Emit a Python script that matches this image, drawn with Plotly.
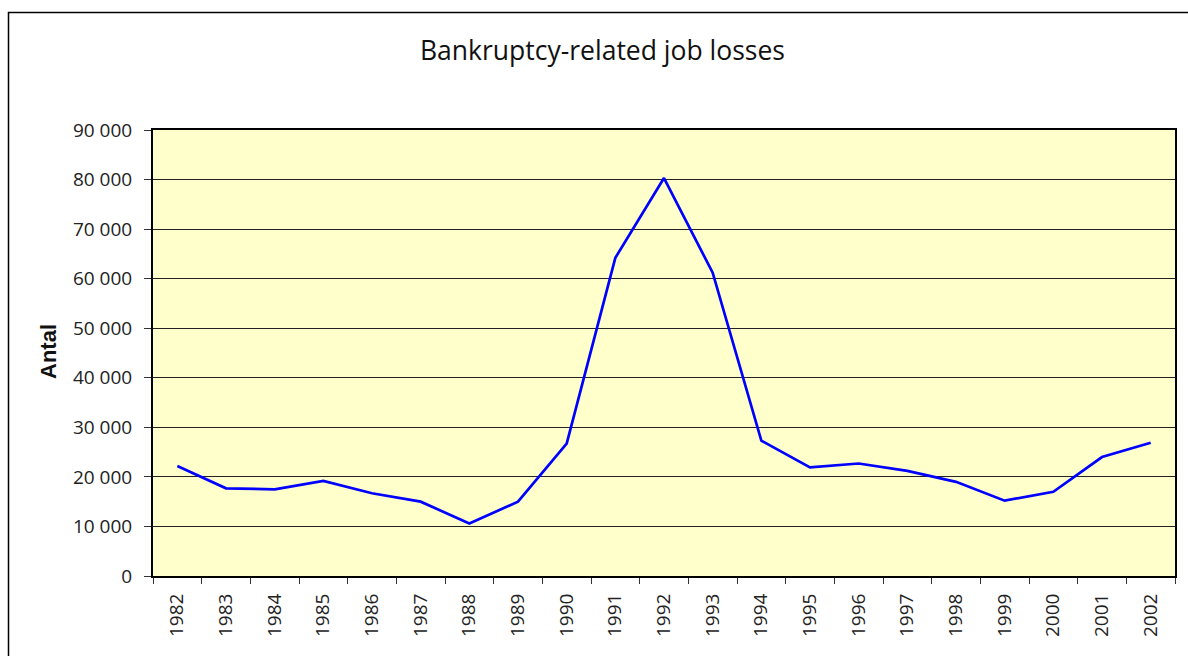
import plotly.graph_objects as go

years = [str(y) for y in range(1982, 2003)]
job_losses = [22200, 17700, 17500, 19200, 16700, 15000, 10600, 15000, 26700,
              64200, 80300, 61200, 27300, 21900, 22700, 21200, 19000, 15200,
              17000, 24000, 26900]
y_ticks = list(range(0, 90001, 10000))

W, H = 1188, 656
L, R, T, B = 153, 1175, 130, 576
pw, ph = R - L, B - T

def px_x(x):
    return (x - L) / pw

def px_y(y):
    return (B - y) / ph

font_family = "Open Sans, sans-serif"

fig = go.Figure()
fig.add_trace(go.Scatter(
    x=years, y=job_losses, mode="lines",
    line=dict(color="#0000FF", width=2.7),
    showlegend=False,
))

fig.update_layout(
    width=W, height=H,
    margin=dict(l=L, r=W - R, t=T, b=H - B),
    paper_bgcolor="white",
    plot_bgcolor="#FFFFCC",
    separators=", ",
    font=dict(family=font_family, color="#222222"),
    xaxis=dict(
        type="category",
        tickson="boundaries",
        ticks="outside", ticklen=6, tickcolor="#333333", tickwidth=1,
        tickangle=-90,
        tickfont=dict(size=19, color="#222222"),
        ticklabelstandoff=8,
        showline=True, linecolor="black", linewidth=2, mirror=True,
        showgrid=False,
        range=[-0.5, len(years) - 0.5],
    ),
    yaxis=dict(
        range=[0, 90000],
        tickvals=y_ticks,
        tickformat=",d",
        ticks="outside", ticklen=7, tickcolor="#333333", tickwidth=1,
        tickfont=dict(size=19, color="#222222"),
        ticklabelstandoff=8,
        showline=True, linecolor="black", linewidth=2, mirror=True,
        showgrid=True, gridcolor="#222222", gridwidth=1,
        zeroline=False,
    ),
    annotations=[
        dict(text="Bankruptcy-related job losses", xref="paper", yref="paper",
             x=px_x(602), y=px_y(50), xanchor="center", yanchor="middle",
             showarrow=False, font=dict(size=26.5, color="#111111", family=font_family)),
        dict(text="<b>Antal</b>", xref="paper", yref="paper",
             x=px_x(48), y=px_y(352), xanchor="center", yanchor="middle",
             textangle=-90, showarrow=False,
             font=dict(size=22, color="#111111", family="Arial, Liberation Sans, sans-serif")),
    ],
    shapes=[
        dict(type="rect", xref="paper", yref="paper",
             x0=px_x(8.5), x1=px_x(1250), y0=px_y(12.5), y1=px_y(720),
             line=dict(color="black", width=1.5), fillcolor="rgba(0,0,0,0)", layer="below"),
    ],
)

fig.write_html("out.html", config={"displayModeBar": False},
               post_script="document.body.style.margin='0';")
